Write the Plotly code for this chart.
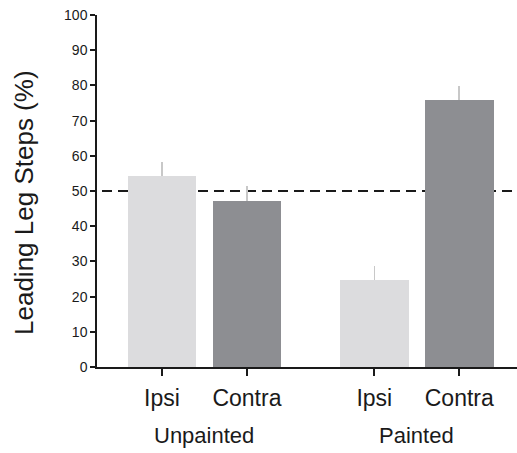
import plotly.graph_objects as go

conditions = ["Ipsi", "Contra", "Ipsi", "Contra"]
groups = ["Unpainted", "Painted"]
x_pos = [1, 2, 3.5, 4.5]
values = [54.2, 47.3, 24.6, 75.8]
errors = [4.0, 4.0, 4.0, 4.0]
bar_colors = ["#dcdcde", "#8d8e92", "#dcdcde", "#8d8e92"]
group_centers = [1.5, 4.0]
chance_level = 50
y_title = "Leading Leg Steps (%)"

fig = go.Figure()
fig.add_trace(go.Bar(
    x=x_pos, y=values, width=0.81,
    marker=dict(color=bar_colors, line=dict(width=0)),
    error_y=dict(type="data", array=errors, arrayminus=[0]*4, symmetric=False,
                 color="#c8c8c8", thickness=1.5, width=0),
    showlegend=False,
))

fig.add_shape(type="line", xref="paper", x0=0, x1=1, yref="y", y0=chance_level, y1=chance_level,
              line=dict(color="#1a1a1a", width=2, dash="0px,5px,10px,1px"), layer="below")

for g, c in zip(groups, group_centers):
    fig.add_annotation(x=c, y=0, xref="x", yref="paper", text=g, showarrow=False,
                       yanchor="middle", yshift=-68, font=dict(size=22, color="#1a1a1a"))

fig.add_annotation(x=0, y=0.466, xref="paper", yref="paper", text=y_title, showarrow=False,
                   textangle=-90, xanchor="center", yanchor="middle", xshift=-73,
                   font=dict(size=26, color="#1a1a1a"))

fig.update_layout(
    width=517, height=453,
    margin=dict(l=97, r=0, t=15, b=86),
    plot_bgcolor="white", paper_bgcolor="white",
    font=dict(family="Liberation Sans, Arial, sans-serif", color="#1a1a1a"),
    bargap=0,
    xaxis=dict(range=[0.235, 5.18], tickvals=x_pos, ticktext=conditions,
               ticks="outside", ticklen=7, tickwidth=1.5, tickcolor="#1a1a1a",
               showline=True, linecolor="#1a1a1a", linewidth=1.5, ticklabelstandoff=3,
               showgrid=False, zeroline=False, tickfont=dict(size=23)),
    yaxis=dict(range=[0, 100], tickvals=list(range(0, 101, 10)),
               ticks="outside", ticklen=5, tickwidth=1.5, tickcolor="#1a1a1a",
               showline=True, linecolor="#1a1a1a", linewidth=1.5,
               showgrid=False, zeroline=False, tickfont=dict(size=14)),
)

fig.write_html("out.html", config={"displayModeBar": False},
               post_script="document.body.style.margin='0';")
